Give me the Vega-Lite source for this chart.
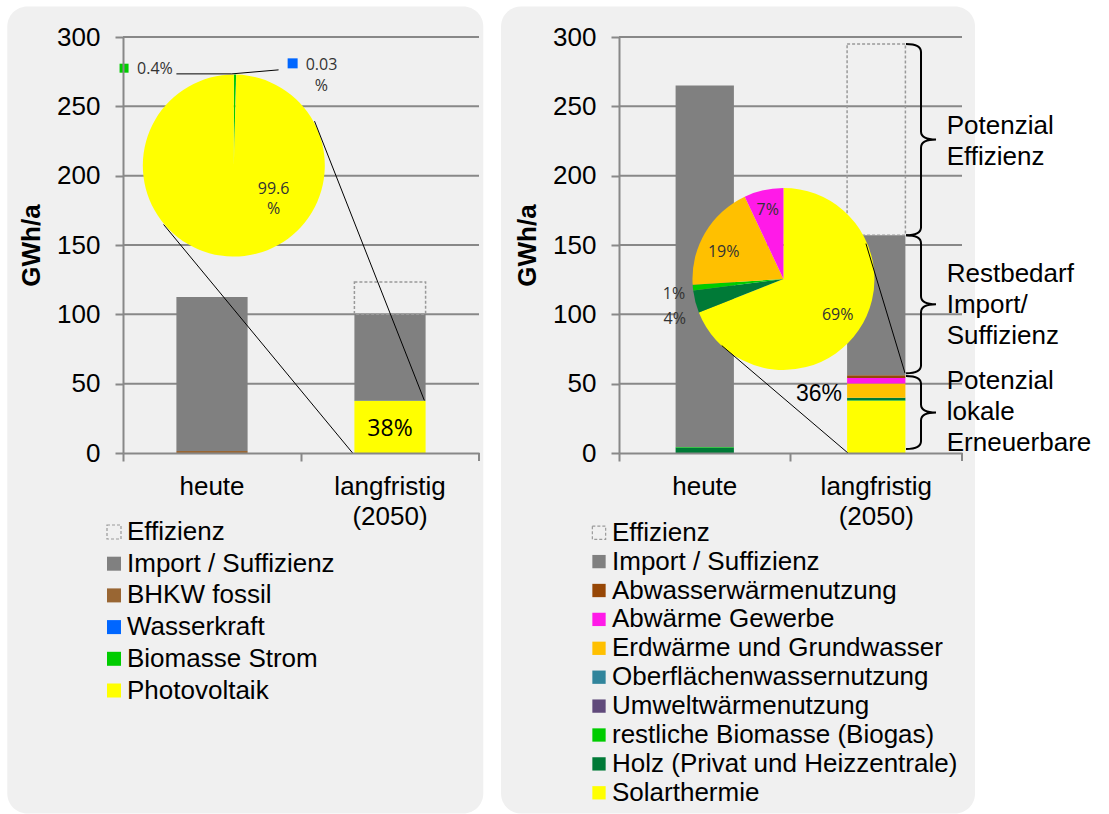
{
  "$schema": "https://vega.github.io/schema/vega-lite/v6.json",
  "padding": {"left": 7, "top": 6, "right": 0, "bottom": 0},
  "background": "white",
  "spacing": 17,
  "config": {"view": {"stroke": null}, "font": "Liberation Sans"},
  "resolve": {"scale": {"color": "independent", "stroke": "independent", "strokeDash": "independent", "x": "independent", "y": "independent"}, "legend": {"color": "independent", "stroke": "independent", "strokeDash": "independent"}, "axis": {"x": "independent", "y": "independent"}},
  "datasets": {
    "grid": [{"g": 50}, {"g": 100}, {"g": 150}, {"g": 200}, {"g": 250}, {"g": 300}],
    "barsL": [
      {"period": "heute", "cat": "BHKW fossil", "value": 1.5},
      {"period": "heute", "cat": "Import / Suffizienz", "value": 111},
      {"period": "langfristig (2050)", "cat": "Photovoltaik", "value": 37.5},
      {"period": "langfristig (2050)", "cat": "Biomasse Strom", "value": 0.15},
      {"period": "langfristig (2050)", "cat": "Wasserkraft", "value": 0.01},
      {"period": "langfristig (2050)", "cat": "Import / Suffizienz", "value": 62.34},
      {"period": "langfristig (2050)", "cat": "Effizienz", "value": 23.3}
    ],
    "pieL": [
      {"cat": "Biomasse Strom", "share": 0.004},
      {"cat": "Wasserkraft", "share": 0.0003},
      {"cat": "Photovoltaik", "share": 0.9957}
    ],
    "barsR": [
      {"period": "heute", "cat": "Holz (Privat und Heizzentrale)", "value": 4.0},
      {"period": "heute", "cat": "restliche Biomasse (Biogas)", "value": 0.3},
      {"period": "heute", "cat": "Import / Suffizienz", "value": 260.7},
      {"period": "langfristig (2050)", "cat": "Solarthermie", "value": 37.6},
      {"period": "langfristig (2050)", "cat": "restliche Biomasse (Biogas)", "value": 0.5},
      {"period": "langfristig (2050)", "cat": "Holz (Privat und Heizzentrale)", "value": 1.7},
      {"period": "langfristig (2050)", "cat": "Erdwärme und Grundwasser", "value": 10.3},
      {"period": "langfristig (2050)", "cat": "Abwärme Gewerbe", "value": 4.0},
      {"period": "langfristig (2050)", "cat": "Abwasserwärmenutzung", "value": 2.0},
      {"period": "langfristig (2050)", "cat": "Import / Suffizienz", "value": 100.9},
      {"period": "langfristig (2050)", "cat": "Effizienz", "value": 138}
    ],
    "pieR": [
      {"cat": "Solarthermie", "share": 0.69},
      {"cat": "Holz (Privat und Heizzentrale)", "share": 0.04},
      {"cat": "restliche Biomasse (Biogas)", "share": 0.01},
      {"cat": "Erdwärme und Grundwasser", "share": 0.19},
      {"cat": "Abwärme Gewerbe", "share": 0.07}
    ]
  },
  "hconcat": [
    {
      "width": 356,
      "height": 416,
      "resolve": {"scale": {"x": "independent"}, "axis": {"x": "independent"}},
      "layer": [
        {
          "data": {"values": [{}]},
          "mark": {"type": "rect", "fill": "#f0f0f0", "cornerRadius": 20},
          "encoding": {
            "x": {"datum": -0.65, "type": "quantitative", "scale": {"domain": [0, 2]}, "axis": null},
            "x2": {"datum": 2.024},
            "y": {"datum": 322, "type": "quantitative", "scale": {"domain": [0, 300], "nice": false}},
            "y2": {"datum": -260}
          }
        },
        {
          "data": {"name": "grid"},
          "mark": {"type": "rule", "color": "#888888", "strokeWidth": 2},
          "encoding": {"y": {"field": "g", "type": "quantitative", "scale": {"domain": [0, 300], "nice": false}}}
        },
        {
          "data": {"name": "barsL"},
          "transform": [{"stack": "value", "groupby": ["period"], "as": ["v0", "v1"]}],
          "mark": {"type": "bar", "width": {"band": 0.4}, "strokeWidth": 1.5},
          "encoding": {
            "x": {"field": "period", "type": "nominal", "sort": null, "scale": {"paddingInner": 0, "paddingOuter": 0},
              "axis": {"title": null, "bandPosition": 0, "labelExpr": "split(datum.label, ' ')", "labelFontSize": 26, "labelFont": "Liberation Sans", "labelColor": "black", "labelPadding": 12, "labelLineHeight": 30, "labelAngle": 0, "labelOverlap": false, "tickSize": 8, "tickColor": "#888888", "tickWidth": 2, "domainColor": "#888888", "domainWidth": 2, "grid": false, "zindex": 1}},
            "y": {"field": "v0", "type": "quantitative", "scale": {"domain": [0, 300], "nice": false},
              "axis": {"title": "GWh/a", "titleFontSize": 26, "titleFont": "Liberation Sans", "titleFontWeight": "bold", "titleColor": "black", "titlePadding": 12, "values": [0, 50, 100, 150, 200, 250, 300], "labelFontSize": 26, "labelFont": "Liberation Sans", "labelColor": "black", "labelPadding": 15, "tickSize": 8, "tickColor": "#888888", "tickWidth": 2, "domainColor": "#888888", "domainWidth": 2, "grid": false, "zindex": 1}},
            "y2": {"field": "v1"},
            "color": {"field": "cat", "type": "nominal",
              "scale": {"domain": ["Effizienz", "Import / Suffizienz", "BHKW fossil", "Wasserkraft", "Biomasse Strom", "Photovoltaik"],
                "range": ["transparent", "#808080", "#996633", "#0066FF", "#00CC00", "#FFFF00"]},
              "legend": {"title": null, "orient": "none", "legendX": -22, "legendY": 482, "direction": "vertical", "symbolType": "square", "symbolSize": 196, "symbolStrokeWidth": 1.2, "labelFontSize": 26, "labelFont": "Liberation Sans", "labelColor": "black", "labelOffset": 0, "labelLimit": 0, "rowPadding": 5.7, "padding": 0}},
            "stroke": {"field": "cat", "type": "nominal",
              "scale": {"domain": ["Effizienz", "Import / Suffizienz", "BHKW fossil", "Wasserkraft", "Biomasse Strom", "Photovoltaik"],
                "range": ["#999999", "transparent", "transparent", "transparent", "transparent", "transparent"]},
              "legend": {"title": null, "orient": "none", "legendX": -22, "legendY": 482, "direction": "vertical", "symbolType": "square", "symbolSize": 196, "symbolStrokeWidth": 1.2, "labelFontSize": 26, "labelFont": "Liberation Sans", "labelColor": "black", "labelOffset": 0, "labelLimit": 0, "rowPadding": 5.7, "padding": 0}},
            "strokeDash": {"field": "cat", "type": "nominal",
              "scale": {"domain": ["Effizienz", "Import / Suffizienz", "BHKW fossil", "Wasserkraft", "Biomasse Strom", "Photovoltaik"],
                "range": [[3, 2], [1, 0], [1, 0], [1, 0], [1, 0], [1, 0]]},
              "legend": {"title": null, "orient": "none", "legendX": -22, "legendY": 482, "direction": "vertical", "symbolType": "square", "symbolSize": 196, "symbolStrokeWidth": 1.2, "labelFontSize": 26, "labelFont": "Liberation Sans", "labelColor": "black", "labelOffset": 0, "labelLimit": 0, "rowPadding": 5.7, "padding": 0}}
          }
        },
        {
          "data": {"name": "pieL"},
          "transform": [{"stack": "share", "groupby": [], "as": ["t0", "t1"]}],
          "mark": {"type": "arc", "outerRadius": 91},
          "encoding": {
            "x": {"datum": 0.6225, "type": "quantitative", "scale": {"domain": [0, 2]}, "axis": null, "stack": null},
            "y": {"datum": 207.3, "type": "quantitative", "scale": {"domain": [0, 300], "nice": false}, "stack": null},
            "theta": {"field": "t0", "type": "quantitative", "scale": {"domain": [0, 1]}},
            "theta2": {"field": "t1"},
            "color": {"field": "cat", "type": "nominal"}
          }
        },
        {
          "data": {"values": [{}]},
          "mark": {"type": "rule", "color": "black", "strokeWidth": 1},
          "encoding": {
            "x": {"datum": 0.228, "type": "quantitative", "scale": {"domain": [0, 2]}, "axis": null},
            "x2": {"datum": 1.29},
            "y": {"datum": 164.8, "type": "quantitative", "scale": {"domain": [0, 300], "nice": false}},
            "y2": {"datum": 0}
          }
        },
        {
          "data": {"values": [{}]},
          "mark": {"type": "rule", "color": "black", "strokeWidth": 1},
          "encoding": {
            "x": {"datum": 1.076, "type": "quantitative", "scale": {"domain": [0, 2]}, "axis": null},
            "x2": {"datum": 1.693},
            "y": {"datum": 239.3, "type": "quantitative", "scale": {"domain": [0, 300], "nice": false}},
            "y2": {"datum": 37.9}
          }
        },
        {
          "data": {"values": [{}]},
          "mark": {"type": "rule", "color": "black", "strokeWidth": 1},
          "encoding": {
            "x": {"datum": 0.30, "type": "quantitative", "scale": {"domain": [0, 2]}, "axis": null},
            "x2": {"datum": 0.611},
            "y": {"datum": 273.4, "type": "quantitative", "scale": {"domain": [0, 300], "nice": false}},
            "y2": {"datum": 273.4}
          }
        },
        {
          "data": {"values": [{}]},
          "mark": {"type": "rule", "color": "black", "strokeWidth": 1},
          "encoding": {
            "x": {"datum": 0.611, "type": "quantitative", "scale": {"domain": [0, 2]}, "axis": null},
            "x2": {"datum": 0.874},
            "y": {"datum": 273.4, "type": "quantitative", "scale": {"domain": [0, 300], "nice": false}},
            "y2": {"datum": 276.3}
          }
        },
        {
          "data": {"values": [{}]},
          "mark": {"type": "text", "text": ["99.6", "%"], "font": "Open Sans", "fontSize": 16, "lineHeight": 20.5, "align": "center", "baseline": "middle", "color": "#333333"},
          "encoding": {
            "x": {"datum": 0.846, "type": "quantitative", "scale": {"domain": [0, 2]}, "axis": null},
            "y": {"datum": 190.7, "type": "quantitative", "scale": {"domain": [0, 300], "nice": false}}
          }
        },
        {
          "data": {"values": [{}]},
          "mark": {"type": "text", "text": "0.4%", "font": "Open Sans", "fontSize": 16, "align": "left", "baseline": "middle", "color": "#333333"},
          "encoding": {
            "x": {"datum": 0.079, "type": "quantitative", "scale": {"domain": [0, 2]}, "axis": null},
            "y": {"datum": 277, "type": "quantitative", "scale": {"domain": [0, 300], "nice": false}}
          }
        },
        {
          "data": {"values": [{}]},
          "mark": {"type": "point", "shape": "square", "size": 81, "filled": true, "opacity": 1, "color": "#00CC00"},
          "encoding": {
            "x": {"datum": 0.006, "type": "quantitative", "scale": {"domain": [0, 2]}, "axis": null},
            "y": {"datum": 277.5, "type": "quantitative", "scale": {"domain": [0, 300], "nice": false}}
          }
        },
        {
          "data": {"values": [{}]},
          "mark": {"type": "text", "text": ["0.03", "%"], "font": "Open Sans", "fontSize": 16, "lineHeight": 21.7, "align": "center", "baseline": "middle", "color": "#333333"},
          "encoding": {
            "x": {"datum": 1.115, "type": "quantitative", "scale": {"domain": [0, 2]}, "axis": null},
            "y": {"datum": 280, "type": "quantitative", "scale": {"domain": [0, 300], "nice": false}}
          }
        },
        {
          "data": {"values": [{}]},
          "mark": {"type": "point", "shape": "square", "size": 100, "filled": true, "opacity": 1, "color": "#0066FF"},
          "encoding": {
            "x": {"datum": 0.953, "type": "quantitative", "scale": {"domain": [0, 2]}, "axis": null},
            "y": {"datum": 281, "type": "quantitative", "scale": {"domain": [0, 300], "nice": false}}
          }
        },
        {
          "data": {"values": [{}]},
          "mark": {"type": "text", "text": "38%", "font": "Open Sans", "fontSize": 23, "align": "center", "baseline": "middle", "color": "black"},
          "encoding": {
            "x": {"datum": 1.5, "type": "quantitative", "scale": {"domain": [0, 2]}, "axis": null},
            "y": {"datum": 17, "type": "quantitative", "scale": {"domain": [0, 300], "nice": false}}
          }
        },
        {
          "data": {"values": [{}]},
          "mark": {"type": "rule", "color": "#888888", "strokeWidth": 2},
          "encoding": {
            "x": {"datum": 2, "type": "quantitative", "scale": {"domain": [0, 2]}, "axis": null},
            "y": {"datum": 0, "type": "quantitative", "scale": {"domain": [0, 300], "nice": false}},
            "y2": {"datum": -5.77}
          }
        }
      ]
    },
    {
      "width": 343,
      "height": 416,
      "resolve": {"scale": {"x": "independent"}, "axis": {"x": "independent"}},
      "layer": [
        {
          "data": {"values": [{}]},
          "mark": {"type": "rect", "fill": "#f0f0f0", "cornerRadius": 20},
          "encoding": {
            "x": {"datum": -0.688, "type": "quantitative", "scale": {"domain": [0, 2]}, "axis": null},
            "x2": {"datum": 2.076},
            "y": {"datum": 322, "type": "quantitative", "scale": {"domain": [0, 300], "nice": false}},
            "y2": {"datum": -260}
          }
        },
        {
          "data": {"name": "grid"},
          "mark": {"type": "rule", "color": "#888888", "strokeWidth": 2},
          "encoding": {"y": {"field": "g", "type": "quantitative", "scale": {"domain": [0, 300], "nice": false}}}
        },
        {
          "data": {"name": "barsR"},
          "transform": [{"stack": "value", "groupby": ["period"], "as": ["v0", "v1"]}],
          "mark": {"type": "bar", "width": {"band": 0.34}, "strokeWidth": 1.5},
          "encoding": {
            "x": {"field": "period", "type": "nominal", "sort": null, "scale": {"paddingInner": 0, "paddingOuter": 0},
              "axis": {"title": null, "bandPosition": 0, "labelExpr": "split(datum.label, ' ')", "labelFontSize": 26, "labelFont": "Liberation Sans", "labelColor": "black", "labelPadding": 12, "labelLineHeight": 30, "labelAngle": 0, "labelOverlap": false, "tickSize": 8, "tickColor": "#888888", "tickWidth": 2, "domainColor": "#888888", "domainWidth": 2, "grid": false, "zindex": 1}},
            "y": {"field": "v0", "type": "quantitative", "scale": {"domain": [0, 300], "nice": false},
              "axis": {"title": "GWh/a", "titleFontSize": 26, "titleFont": "Liberation Sans", "titleFontWeight": "bold", "titleColor": "black", "titlePadding": 12, "values": [0, 50, 100, 150, 200, 250, 300], "labelFontSize": 26, "labelFont": "Liberation Sans", "labelColor": "black", "labelPadding": 15, "tickSize": 8, "tickColor": "#888888", "tickWidth": 2, "domainColor": "#888888", "domainWidth": 2, "grid": false, "zindex": 1}},
            "y2": {"field": "v1"},
            "color": {"field": "cat", "type": "nominal",
              "scale": {"domain": ["Effizienz", "Import / Suffizienz", "Abwasserwärmenutzung", "Abwärme Gewerbe", "Erdwärme und Grundwasser", "Oberflächenwassernutzung", "Umweltwärmenutzung", "restliche Biomasse (Biogas)", "Holz (Privat und Heizzentrale)", "Solarthermie"],
                "range": ["transparent", "#808080", "#974706", "#FF1AE8", "#FFC000", "#31859C", "#604A7B", "#00CC00", "#007A37", "#FFFF00"]},
              "legend": {"title": null, "orient": "none", "legendX": -33, "legendY": 482.7, "direction": "vertical", "symbolType": "square", "symbolSize": 177, "symbolStrokeWidth": 1.2, "labelFontSize": 26, "labelFont": "Liberation Sans", "labelColor": "black", "labelOffset": 0, "labelLimit": 0, "rowPadding": 2.9, "padding": 0}},
            "stroke": {"field": "cat", "type": "nominal",
              "scale": {"domain": ["Effizienz", "Import / Suffizienz", "Abwasserwärmenutzung", "Abwärme Gewerbe", "Erdwärme und Grundwasser", "Oberflächenwassernutzung", "Umweltwärmenutzung", "restliche Biomasse (Biogas)", "Holz (Privat und Heizzentrale)", "Solarthermie"],
                "range": ["#999999", "transparent", "transparent", "transparent", "transparent", "transparent", "transparent", "transparent", "transparent", "transparent"]},
              "legend": {"title": null, "orient": "none", "legendX": -33, "legendY": 482.7, "direction": "vertical", "symbolType": "square", "symbolSize": 177, "symbolStrokeWidth": 1.2, "labelFontSize": 26, "labelFont": "Liberation Sans", "labelColor": "black", "labelOffset": 0, "labelLimit": 0, "rowPadding": 2.9, "padding": 0}},
            "strokeDash": {"field": "cat", "type": "nominal",
              "scale": {"domain": ["Effizienz", "Import / Suffizienz", "Abwasserwärmenutzung", "Abwärme Gewerbe", "Erdwärme und Grundwasser", "Oberflächenwassernutzung", "Umweltwärmenutzung", "restliche Biomasse (Biogas)", "Holz (Privat und Heizzentrale)", "Solarthermie"],
                "range": [[3, 2], [1, 0], [1, 0], [1, 0], [1, 0], [1, 0], [1, 0], [1, 0], [1, 0], [1, 0]]},
              "legend": {"title": null, "orient": "none", "legendX": -33, "legendY": 482.7, "direction": "vertical", "symbolType": "square", "symbolSize": 177, "symbolStrokeWidth": 1.2, "labelFontSize": 26, "labelFont": "Liberation Sans", "labelColor": "black", "labelOffset": 0, "labelLimit": 0, "rowPadding": 2.9, "padding": 0}}
          }
        },
        {
          "data": {"name": "pieR"},
          "transform": [{"stack": "share", "groupby": [], "as": ["t0", "t1"]}],
          "mark": {"type": "arc", "outerRadius": 91},
          "encoding": {
            "x": {"datum": 0.959, "type": "quantitative", "scale": {"domain": [0, 2]}, "axis": null, "stack": null},
            "y": {"datum": 125.5, "type": "quantitative", "scale": {"domain": [0, 300], "nice": false}, "stack": null},
            "theta": {"field": "t0", "type": "quantitative", "scale": {"domain": [0, 1]}},
            "theta2": {"field": "t1"},
            "color": {"field": "cat", "type": "nominal"}
          }
        },
        {
          "data": {"values": [{}]},
          "mark": {"type": "rule", "color": "black", "strokeWidth": 1},
          "encoding": {
            "x": {"datum": 0.599, "type": "quantitative", "scale": {"domain": [0, 2]}, "axis": null},
            "x2": {"datum": 1.335},
            "y": {"datum": 77.5, "type": "quantitative", "scale": {"domain": [0, 300], "nice": false}},
            "y2": {"datum": 0}
          }
        },
        {
          "data": {"values": [{}]},
          "mark": {"type": "rule", "color": "black", "strokeWidth": 1},
          "encoding": {
            "x": {"datum": 1.44, "type": "quantitative", "scale": {"domain": [0, 2]}, "axis": null},
            "x2": {"datum": 1.668},
            "y": {"datum": 151, "type": "quantitative", "scale": {"domain": [0, 300], "nice": false}},
            "y2": {"datum": 57.5}
          }
        },
        {
          "data": {"values": [{}]},
          "mark": {"type": "text", "text": "69%", "font": "Open Sans", "fontSize": 16, "align": "center", "baseline": "middle", "color": "#333333"},
          "encoding": {
            "x": {"datum": 1.275, "type": "quantitative", "scale": {"domain": [0, 2]}, "axis": null},
            "y": {"datum": 99.2, "type": "quantitative", "scale": {"domain": [0, 300], "nice": false}}
          }
        },
        {
          "data": {"values": [{}]},
          "mark": {"type": "text", "text": "19%", "font": "Open Sans", "fontSize": 16, "align": "center", "baseline": "middle", "color": "#333333"},
          "encoding": {
            "x": {"datum": 0.6105, "type": "quantitative", "scale": {"domain": [0, 2]}, "axis": null},
            "y": {"datum": 145.3, "type": "quantitative", "scale": {"domain": [0, 300], "nice": false}}
          }
        },
        {
          "data": {"values": [{}]},
          "mark": {"type": "text", "text": "7%", "font": "Open Sans", "fontSize": 16, "align": "center", "baseline": "middle", "color": "#333333"},
          "encoding": {
            "x": {"datum": 0.8676, "type": "quantitative", "scale": {"domain": [0, 2]}, "axis": null},
            "y": {"datum": 175.6, "type": "quantitative", "scale": {"domain": [0, 300], "nice": false}}
          }
        },
        {
          "data": {"values": [{}]},
          "mark": {"type": "text", "text": "1%", "font": "Open Sans", "fontSize": 16, "align": "center", "baseline": "middle", "color": "#333333"},
          "encoding": {
            "x": {"datum": 0.3207, "type": "quantitative", "scale": {"domain": [0, 2]}, "axis": null},
            "y": {"datum": 115, "type": "quantitative", "scale": {"domain": [0, 300], "nice": false}}
          }
        },
        {
          "data": {"values": [{}]},
          "mark": {"type": "text", "text": "4%", "font": "Open Sans", "fontSize": 16, "align": "center", "baseline": "middle", "color": "#333333"},
          "encoding": {
            "x": {"datum": 0.3254, "type": "quantitative", "scale": {"domain": [0, 2]}, "axis": null},
            "y": {"datum": 96.3, "type": "quantitative", "scale": {"domain": [0, 300], "nice": false}}
          }
        },
        {
          "data": {"values": [{}]},
          "mark": {"type": "text", "text": "36%", "font": "Liberation Sans", "fontSize": 23, "align": "center", "baseline": "middle", "color": "black"},
          "encoding": {
            "x": {"datum": 1.166, "type": "quantitative", "scale": {"domain": [0, 2]}, "axis": null},
            "y": {"datum": 42.9, "type": "quantitative", "scale": {"domain": [0, 300], "nice": false}}
          }
        },
        {
          "data": {"values": [{}]},
          "mark": {"type": "point", "shape": "M -0.157 -1 Q 0 -1 0 -0.916 L 0 -0.084 Q 0 0 0.157 0 Q 0 0 0 0.084 L 0 0.916 Q 0 1 -0.157 1", "size": 36634, "filled": false, "opacity": 1, "color": "black", "strokeWidth": 2},
          "encoding": {
            "x": {"datum": 1.761, "type": "quantitative", "scale": {"domain": [0, 2]}, "axis": null},
            "y": {"datum": 226, "type": "quantitative", "scale": {"domain": [0, 300], "nice": false}}
          }
        },
        {
          "data": {"values": [{}]},
          "mark": {"type": "point", "shape": "M -0.217 -1 Q 0 -1 0 -0.884 L 0 -0.116 Q 0 0 0.217 0 Q 0 0 0 0.116 L 0 0.884 Q 0 1 -0.217 1", "size": 19044, "filled": false, "opacity": 1, "color": "black", "strokeWidth": 2},
          "encoding": {
            "x": {"datum": 1.761, "type": "quantitative", "scale": {"domain": [0, 2]}, "axis": null},
            "y": {"datum": 107.2, "type": "quantitative", "scale": {"domain": [0, 300], "nice": false}}
          }
        },
        {
          "data": {"values": [{}]},
          "mark": {"type": "point", "shape": "M -0.411 -1 Q 0 -1 0 -0.781 L 0 -0.219 Q 0 0 0.411 0 Q 0 0 0 0.219 L 0 0.781 Q 0 1 -0.411 1", "size": 5329, "filled": false, "opacity": 1, "color": "black", "strokeWidth": 2},
          "encoding": {
            "x": {"datum": 1.761, "type": "quantitative", "scale": {"domain": [0, 2]}, "axis": null},
            "y": {"datum": 29.2, "type": "quantitative", "scale": {"domain": [0, 300], "nice": false}}
          }
        },
        {
          "data": {"values": [{}]},
          "mark": {"type": "text", "text": ["Potenzial", "Effizienz"], "font": "Liberation Sans", "fontSize": 26, "lineHeight": 31, "align": "left", "baseline": "middle", "color": "black"},
          "encoding": {
            "x": {"datum": 1.911, "type": "quantitative", "scale": {"domain": [0, 2]}, "axis": null},
            "y": {"datum": 235.6, "type": "quantitative", "scale": {"domain": [0, 300], "nice": false}}
          }
        },
        {
          "data": {"values": [{}]},
          "mark": {"type": "text", "text": ["Restbedarf", "Import/", "Suffizienz"], "font": "Liberation Sans", "fontSize": 26, "lineHeight": 31, "align": "left", "baseline": "middle", "color": "black"},
          "encoding": {
            "x": {"datum": 1.911, "type": "quantitative", "scale": {"domain": [0, 2]}, "axis": null},
            "y": {"datum": 129.4, "type": "quantitative", "scale": {"domain": [0, 300], "nice": false}}
          }
        },
        {
          "data": {"values": [{}]},
          "mark": {"type": "text", "text": ["Potenzial", "lokale", "Erneuerbare"], "font": "Liberation Sans", "fontSize": 26, "lineHeight": 31, "align": "left", "baseline": "middle", "color": "black"},
          "encoding": {
            "x": {"datum": 1.911, "type": "quantitative", "scale": {"domain": [0, 2]}, "axis": null},
            "y": {"datum": 52.0, "type": "quantitative", "scale": {"domain": [0, 300], "nice": false}}
          }
        },
        {
          "data": {"values": [{}]},
          "mark": {"type": "rule", "color": "#888888", "strokeWidth": 2},
          "encoding": {
            "x": {"datum": 2, "type": "quantitative", "scale": {"domain": [0, 2]}, "axis": null},
            "y": {"datum": 0, "type": "quantitative", "scale": {"domain": [0, 300], "nice": false}},
            "y2": {"datum": -5.77}
          }
        }
      ]
    }
  ]
}
